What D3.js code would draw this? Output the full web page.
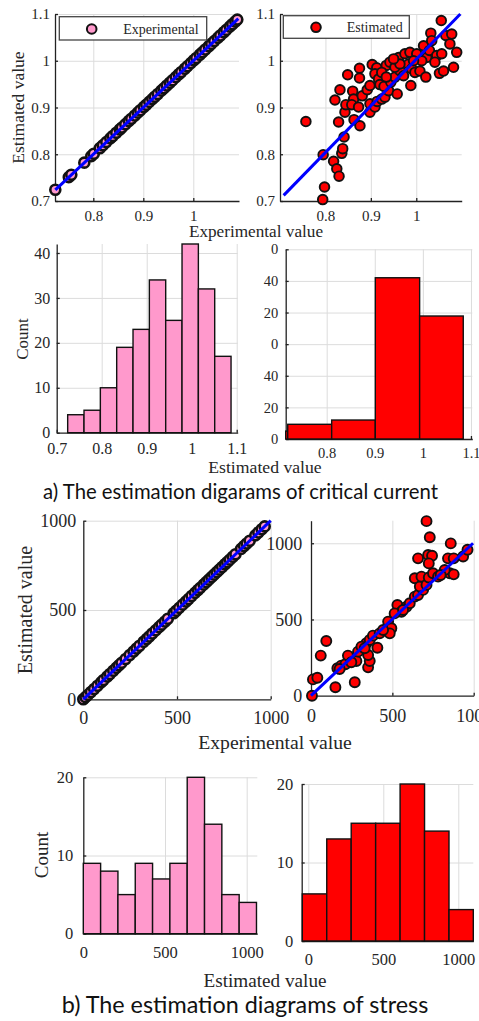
<!DOCTYPE html>
<html>
<head>
<meta charset="utf-8">
<script src="https://cdn.jsdelivr.net/npm/d3@7"></script>
<style>
body { margin: 0; background: #fff; }
svg { display: block; }
</style>
</head>
<body>
<svg width="479" height="1021"></svg>
<script>
// ---- a) critical current ----
const ccExperimental = [0.724, 0.751, 0.756, 0.782, 0.796, 0.801, 0.813, 0.819, 0.826, 0.834, 0.839, 0.846,
	0.853, 0.857, 0.864, 0.871, 0.876, 0.883, 0.889, 0.894, 0.901, 0.906, 0.912, 0.918, 0.923, 0.929, 0.936,
	0.941, 0.947, 0.953, 0.958, 0.965, 0.971, 0.976, 0.983, 0.988, 0.995, 1.001, 1.006, 1.013, 1.018, 1.024,
	1.031, 1.036, 1.042, 1.049, 1.054, 1.061, 1.066, 1.073, 1.078, 1.084, 1.088];
const ccEstX = [
	1.055, 0.757, 0.795, 0.798, 0.794, 0.818, 0.825, 0.830, 0.836, 0.838,
	0.841, 0.829, 0.821, 0.832, 0.849, 0.875, 0.875, 0.843, 0.845, 0.860,
	0.862, 0.858, 0.873, 0.863, 0.876, 0.881, 0.892, 0.898, 0.903, 0.913,
	0.909, 0.917, 0.920, 0.934, 0.942, 0.898, 0.898, 0.909, 0.914, 0.924,
	0.931, 0.939, 0.929, 0.944, 0.953, 0.958, 0.964, 0.961, 0.975, 0.986,
	0.983, 0.990, 0.988, 0.997, 1.001, 1.016, 1.023, 1.032, 1.034, 1.029,
	1.045, 1.056, 1.065, 1.078, 1.074, 1.089, 1.082, 1.051, 1.041, 1.012,
	1.008, 1.021, 1.060, 0.972, 0.953, 0.964, 0.950, 0.994, 0.924, 0.934];
const ccEstY = [
	1.086, 0.870, 0.799, 0.730, 0.703, 0.785, 0.769, 0.753, 0.802, 0.812,
	0.837, 0.869, 0.916, 0.938, 0.970, 0.984, 0.963, 0.890, 0.906, 0.935,
	0.918, 0.906, 0.901, 0.874, 0.861, 0.925, 0.938, 0.947, 0.992, 0.985,
	0.972, 0.961, 0.949, 0.990, 0.997, 0.908, 0.890, 0.901, 0.913, 0.918,
	0.922, 0.936, 0.945, 0.954, 0.965, 0.929, 0.979, 1.007, 1.015, 1.018,
	0.993, 0.983, 0.947, 0.975, 1.015, 1.032, 1.007, 1.059, 1.043, 1.022,
	1.011, 1.015, 1.054, 1.057, 1.036, 1.018, 0.986, 0.973, 0.997, 1.000,
	0.978, 0.965, 0.978, 0.968, 0.986, 0.993, 1.004, 1.000, 0.975, 0.965];
const ccFitExp = [[0.724, 0.724], [1.09, 1.09]];
const ccFitEst = [[0.708, 0.712], [1.097, 1.1]];
const ccHistEdges = [0.7244, 0.7607, 0.7970, 0.8333, 0.8696, 0.9059, 0.9422, 0.9785, 1.0148, 1.0511, 1.0874];
const ccHistCounts = [4, 5, 10, 19, 23, 34, 25, 42, 32, 17];
const ccEstHistEdges = [0.627, 0.719, 0.8104, 0.9011, 0.9933, 1.084];
const ccEstHistCounts = [5, 9.3, 12, 102, 77.8];
const ccEstHistTicks = [0, 20, 40, 60, 80, 100, 120];
const ccEstHistTickLabels = ["0", "20", "40", "0", "20", "40", "0"];

// ---- b) stress ----
const stExperimental = [0, 12, 25, 41, 58, 76, 95, 108, 128, 142, 160, 176, 190, 204, 226, 248, 268, 284,
	300, 322, 338, 352, 368, 386, 404, 418, 436, 451, 482, 496, 512, 530, 548, 562, 578, 596, 612, 624, 642,
	656, 670, 684, 698, 712, 726, 741, 756, 768, 782, 798, 812, 842, 858, 872, 888, 918, 934, 952, 968];
const stEstX = [
	6, 12, 39, 60, 94, 150, 269, 162, 186, 211,
	227, 279, 289, 351, 361, 351, 340, 361, 381, 408,
	422, 474, 494, 484, 531, 556, 587, 607, 638, 658,
	689, 638, 669, 679, 710, 724, 750, 781, 658, 720,
	744, 724, 710, 730, 859, 842, 877, 853, 877, 935,
	962, 822, 797, 514, 566, 443, 310, 248, 176, 330];
const stEstY = [
	0, 107, 118, 263, 359, 55, 88, 180, 197, 206,
	263, 228, 289, 186, 228, 267, 344, 366, 394, 315,
	409, 486, 442, 409, 595, 551, 584, 606, 650, 661,
	694, 770, 716, 781, 727, 775, 803, 781, 901, 923,
	918, 868, 1145, 1039, 999, 901, 901, 803, 796, 913,
	957, 825, 792, 540, 562, 431, 322, 219, 175, 311];
const stFitExp = [[0, 0], [1000, 1000]];
const stFitEst = [[0, 0], [996, 1000]];
const stHistEdges = [0, 106, 212, 318, 424, 530, 636, 742, 848, 954, 1060];
const stHistCounts = [9, 8, 5, 9, 7, 9, 20, 14, 5, 4];
const stEstHistEdges = [-40, 123, 286, 449, 612, 775, 938, 1100];
const stEstHistCounts = [6, 13, 15, 15, 20, 14, 4];

const svg = d3.select("svg");
const serif = '"Liberation Serif","Times New Roman",serif';
const PINK = "#ff99cc";
const RED = "#ff0000";
const INK = "#222";

function panel(p) {
	const x = d3.scaleLinear().domain(p.xDomain).range([p.left, p.right]);
	const y = d3.scaleLinear().domain(p.yDomain).range([p.bottom, p.top]);
	if (p.clamp) x.clamp(true);
	const g = svg.append("g");
	// grid
	g.append("g")
		.attr("transform", `translate(0,${p.bottom})`)
		.call(d3.axisBottom(x).tickValues(p.xGrid).tickSize(-(p.bottom - p.top)).tickFormat(""))
		.call(s => s.select(".domain").remove())
		.selectAll("line").attr("stroke", "#dcdcdc");
	g.append("g")
		.attr("transform", `translate(${p.left},0)`)
		.call(d3.axisLeft(y).tickValues(p.yGrid).tickSize(-(p.right - p.left)).tickFormat(""))
		.call(s => s.select(".domain").remove())
		.selectAll("line").attr("stroke", "#dcdcdc");
	// axes
	const xl = p.xLabels || p.xTicks.map(String);
	const yl = p.yLabels || p.yTicks.map(String);
	const ax = g.append("g")
		.attr("transform", `translate(0,${p.bottom})`)
		.call(d3.axisBottom(x).tickValues(p.xTicks).tickFormat(d => xl[p.xTicks.indexOf(d)])
			.tickSizeInner(-3).tickSizeOuter(0).tickPadding(p.xPad));
	const ay = g.append("g")
		.attr("transform", `translate(${p.left},0)`)
		.call(d3.axisLeft(y).tickValues(p.yTicks).tickFormat(d => yl[p.yTicks.indexOf(d)])
			.tickSizeInner(-3).tickSizeOuter(0).tickPadding(p.yPad));
	[ax, ay].forEach(a => {
		a.selectAll("path, line").attr("stroke", INK).attr("stroke-width", 1.3);
		a.selectAll("text").attr("font-family", serif).attr("font-size", p.fs).attr("fill", "#262626");
	});
	return { x, y, g };
}

function scatter(P, xs, ys, fill, r, sw) {
	P.g.append("g").selectAll("circle")
		.data(xs.map((v, i) => [v, ys[i]]))
		.join("circle")
		.attr("cx", d => P.x(d[0]))
		.attr("cy", d => P.y(d[1]))
		.attr("r", r)
		.attr("fill", fill)
		.attr("stroke", "#111")
		.attr("stroke-width", sw);
}

function fitLine(P, pts) {
	P.g.append("path")
		.datum(pts)
		.attr("d", d3.line().x(d => P.x(d[0])).y(d => P.y(d[1])))
		.attr("stroke", "#0000ff")
		.attr("stroke-width", 3)
		.attr("fill", "none");
}

function hist(P, edges, counts, fill) {
	P.g.append("g").selectAll("rect")
		.data(counts.map((c, i) => ({ x0: edges[i], x1: edges[i + 1], c })))
		.join("rect")
		.attr("x", d => P.x(d.x0))
		.attr("width", d => P.x(d.x1) - P.x(d.x0))
		.attr("y", d => P.y(d.c))
		.attr("height", d => P.y(0) - P.y(d.c))
		.attr("fill", fill)
		.attr("stroke", "#111")
		.attr("stroke-width", 1.4);
}

function legend(box, marker, fill, label) {
	const g = svg.append("g");
	g.append("rect")
		.attr("x", box[0]).attr("y", box[1]).attr("width", box[2]).attr("height", box[3])
		.attr("fill", "#fff").attr("stroke", "#444").attr("stroke-width", 1.3);
	g.append("circle")
		.attr("cx", marker[0]).attr("cy", marker[1]).attr("r", 4.8)
		.attr("fill", fill).attr("stroke", "#111").attr("stroke-width", 2);
	g.append("text")
		.attr("x", marker[2]).attr("y", marker[3])
		.attr("font-family", serif).attr("font-size", 14).attr("fill", "#262626")
		.text(label);
}

function label(text, x, y, size, rotate) {
	const t = svg.append("text")
		.attr("font-family", serif)
		.attr("font-size", size)
		.attr("fill", "#262626")
		.attr("text-anchor", "middle")
		.text(text);
	if (rotate) t.attr("transform", `translate(${x},${y}) rotate(-90)`).attr("dy", "0.35em");
	else t.attr("x", x).attr("y", y);
}

function caption(text, cx, y, width) {
	const t = svg.append("text")
		.attr("x", cx).attr("y", y)
		.attr("text-anchor", "middle")
		.attr("font-family", "Lato, 'Open Sans', sans-serif")
		.attr("font-size", 20)
		.attr("fill", "#111")
		.text(text);
	const w = t.node().getComputedTextLength();
	t.attr("font-size", 20 * width / w);
}

// panel 1: experimental vs experimental
const P1 = panel({
	left: 55, right: 239, top: 14, bottom: 201,
	xDomain: [0.7234, 1.0914], yDomain: [0.7, 1.1],
	xTicks: [0.8, 0.9, 1], yTicks: [0.7, 0.8, 0.9, 1, 1.1],
	xGrid: [0.8, 0.9, 1], yGrid: [0.8, 0.9, 1, 1.1],
	xPad: 9, yPad: 5, fs: 15
});
scatter(P1, ccExperimental, ccExperimental, PINK, 5, 2.6);
fitLine(P1, ccFitExp);
legend([59.3, 16.7, 147.4, 23.3], [91.7, 29, 123.3, 33.5], PINK, "Experimental");

// panel 2: estimated
const P2 = panel({
	left: 280, right: 461.7, top: 14, bottom: 201,
	xDomain: [0.7, 1.1], yDomain: [0.7, 1.1],
	xTicks: [0.8, 0.9, 1], yTicks: [0.7, 0.8, 0.9, 1, 1.1],
	xGrid: [0.8, 0.9, 1], yGrid: [0.8, 0.9, 1, 1.1],
	xPad: 9, yPad: 5, fs: 15
});
scatter(P2, ccEstX, ccEstY, RED, 4.8, 1.9);
fitLine(P2, ccFitEst);
legend([283.3, 15.7, 126, 22.6], [316, 27.3, 346.7, 31.8], RED, "Estimated");

label("Estimated value", 18, 107.5, 17.5, true);
label("Experimental value", 256, 237, 17.2);

// panel 3: histogram experimental
const P3 = panel({
	left: 56.7, right: 237.7, top: 244, bottom: 432.7,
	xDomain: [0.7, 1.1022], yDomain: [0, 42],
	xTicks: [0.7, 0.8, 0.9, 1, 1.1], yTicks: [0, 10, 20, 30, 40],
	xGrid: [0.8, 0.9, 1, 1.1], yGrid: [10, 20, 30, 40],
	xPad: 10, yPad: 6.5, fs: 16
});
hist(P3, ccHistEdges, ccHistCounts, PINK);

// panel 4: histogram estimated
const P4 = panel({
	left: 285.7, right: 472.3, top: 249.3, bottom: 439, clamp: true,
	xDomain: [0.7148, 1.1028], yDomain: [0, 120],
	xTicks: [0.8, 0.9, 1, 1.1], yTicks: ccEstHistTicks, yLabels: ccEstHistTickLabels,
	xGrid: [0.8, 0.9, 1, 1.1], yGrid: [20, 40, 60, 80, 100, 120],
	xPad: 9, yPad: 7.4, fs: 14.5
});
hist(P4, ccEstHistEdges, ccEstHistCounts, RED);

label("Count", 21.7, 339, 17, true);
label("Estimated value", 265, 473, 17.7);
caption("a) The estimation digarams of critical current", 240.5, 499, 395);

// panel 5: stress experimental
const P5 = panel({
	left: 83.3, right: 270.7, top: 520.7, bottom: 699.3,
	xDomain: [0, 1000], yDomain: [0, 1000],
	xTicks: [0, 500, 1000], yTicks: [0, 500, 1000],
	xGrid: [500, 1000], yGrid: [500, 1000],
	xPad: 12, yPad: 7, fs: 18
});
scatter(P5, stExperimental, stExperimental, PINK, 5, 2.6);
fitLine(P5, stFitExp);

// panel 6: stress estimated
const P6 = panel({
	left: 311, right: 473.7, top: 520.7, bottom: 695.7,
	xDomain: [0, 1000], yDomain: [0, 1148],
	xTicks: [0, 500, 1000], yTicks: [0, 500, 1000],
	xGrid: [500, 1000], yGrid: [500, 1000],
	xPad: 14, yPad: 8.7, fs: 18
});
scatter(P6, stEstX, stEstY, RED, 5, 1.9);
fitLine(P6, stFitEst);

label("Estimated value", 25, 610, 20, true);
label("Experimental value", 275, 749, 19.7);

// panel 7: stress histogram experimental
const P7 = panel({
	left: 83.3, right: 257.3, top: 777.3, bottom: 933.7,
	xDomain: [0, 1065], yDomain: [0, 20],
	xTicks: [0, 500, 1000], yTicks: [0, 10, 20],
	xGrid: [500, 1000], yGrid: [10, 20],
	xPad: 12.5, yPad: 10, fs: 16.5
});
hist(P7, stHistEdges, stHistCounts, PINK);

// panel 8: stress histogram estimated
const P8 = panel({
	left: 301.7, right: 473.3, top: 784, bottom: 941,
	xDomain: [-44, 1100], yDomain: [0, 20],
	xTicks: [0, 500, 1000], yTicks: [0, 10, 20],
	xGrid: [0, 500, 1000], yGrid: [10, 20],
	xPad: 12.6, yPad: 8.4, fs: 16.5
});
hist(P8, stEstHistEdges, stEstHistCounts, RED);

label("Count", 41.7, 855, 19, true);
label("Estimated value", 265, 986.5, 19.2);
caption("b) The estimation diagrams of stress", 245, 1013, 366.7);
</script>
</body>
</html>
